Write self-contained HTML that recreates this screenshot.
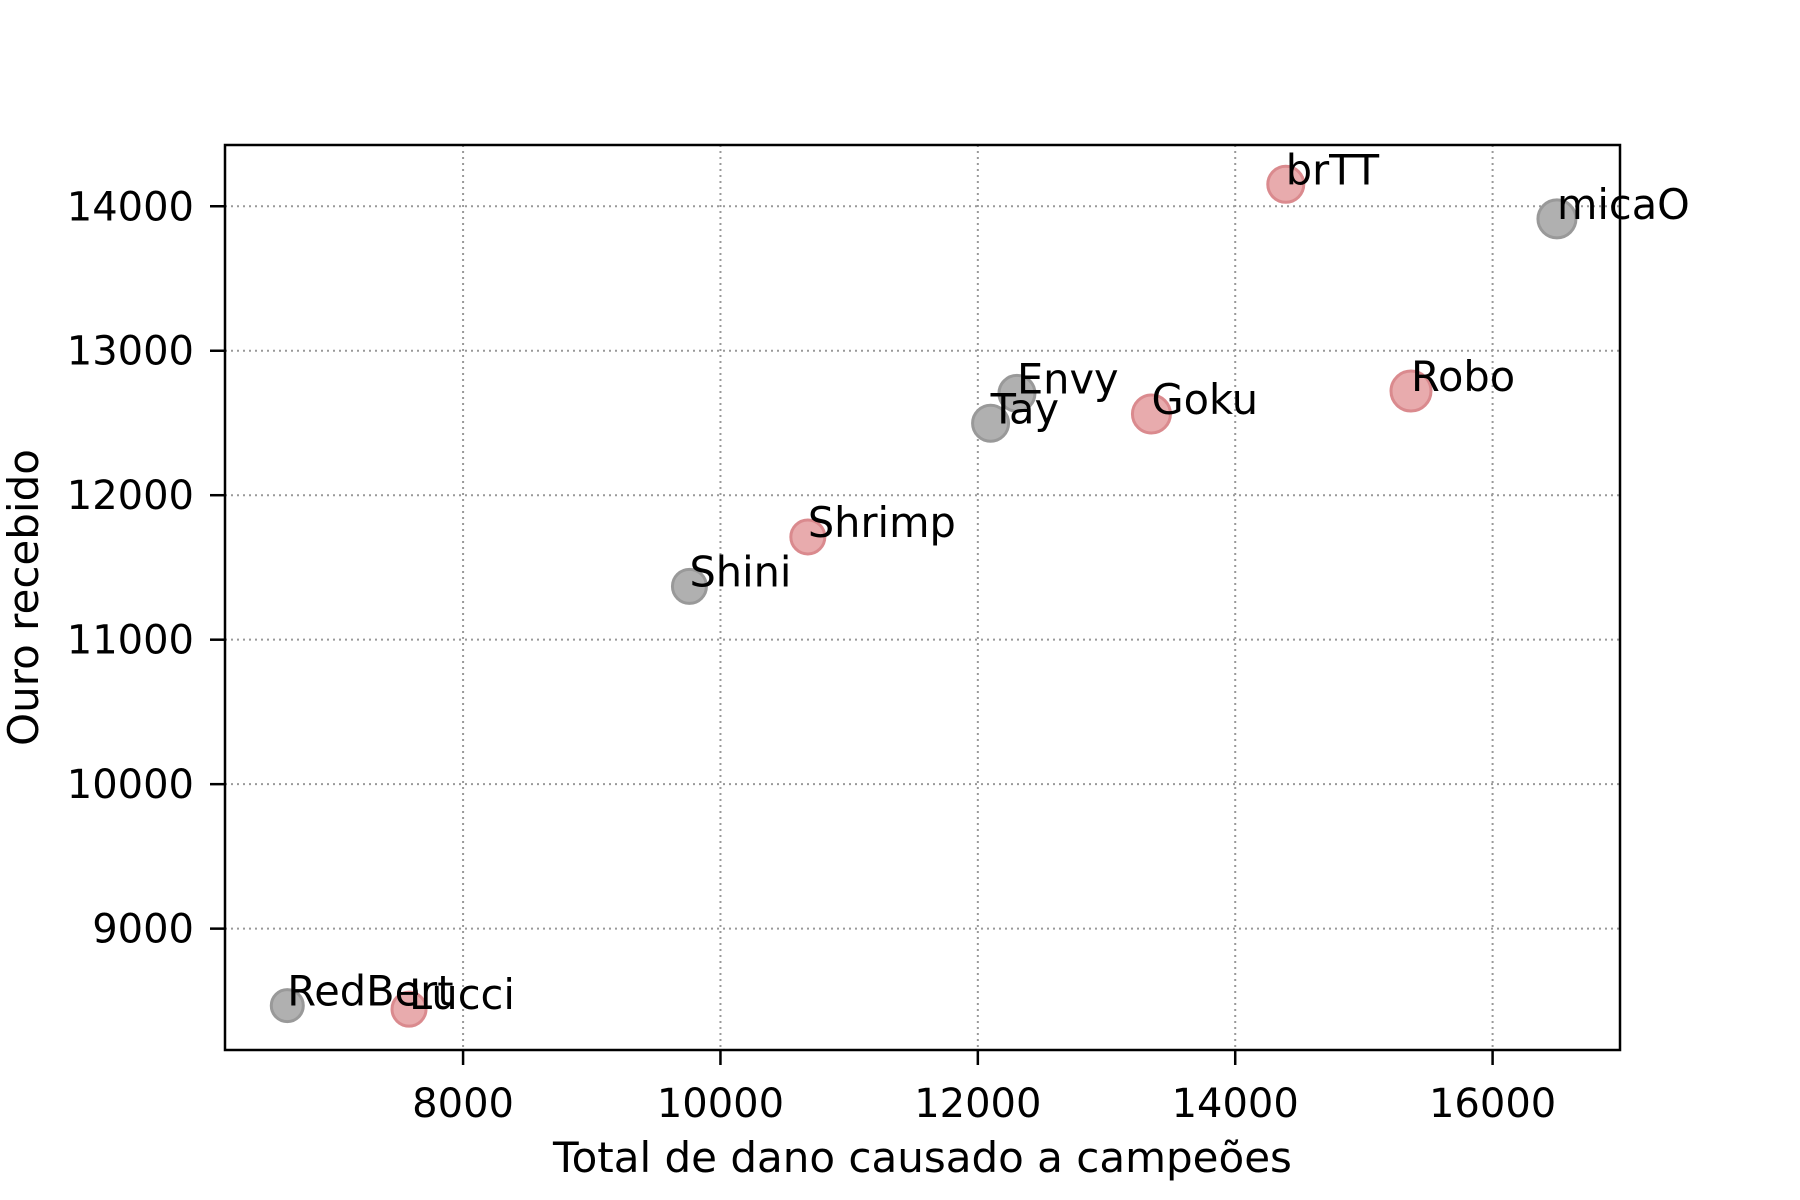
<!DOCTYPE html>
<html><head><meta charset="utf-8"><style>
html,body{margin:0;padding:0;background:#fff;}
svg{display:block;font-family:"DejaVu Sans","Liberation Sans",sans-serif;}
</style></head><body>
<svg id="chart" width="1800" height="1200" viewBox="0 0 1800 1200"></svg>
<script>
const players = ["RedBert","Lucci","Shini","Shrimp","Tay","Envy","Goku","Robo","brTT","micaO"];
const damage = [6634,7580,9759,10679,12099,12304,13349,15366,14393,16500];
const gold = [8467,8443,11369,11711,12498,12705,12562,12721,14152,13913];
const team = ["g","r","g","r","g","g","r","r","r","g"];
const markerSize = [16,17,17,17,18,18,19,20,18,19];
const xTicks = [8000,10000,12000,14000,16000];
const yTicks = [9000,10000,11000,12000,13000,14000];

const L=225,R=1620,T=145,B=1050;
const xMin=6150,xMax=16990,yMin=8160,yMax=14424;
const sx=v=>L+(v-xMin)/(xMax-xMin)*(R-L);
const sy=v=>B-(v-yMin)/(yMax-yMin)*(B-T);
const svg=document.getElementById('chart');
const NS='http://www.w3.org/2000/svg';
function mk(tag,attrs,parent){const e=document.createElementNS(NS,tag);for(const k in attrs)e.setAttribute(k,attrs[k]);(parent||svg).appendChild(e);return e;}

const grid=mk('g',{});


xTicks.forEach(v=>{
  const l=mk('line',{x1:sx(v),x2:sx(v),y1:T,y2:B,stroke:'#999',"stroke-width":2,"stroke-dasharray":"2,4"},grid);
  
  
  const t=mk('line',{x1:sx(v),x2:sx(v),y1:B,y2:B+15,stroke:'#000',"stroke-width":2.5});
  
  
  const tx=mk('text',{x:sx(v),y:1117,"text-anchor":"middle","font-size":40,fill:'#000'});
  tx.textContent=v;
  
  
});
yTicks.forEach(v=>{
  const l=mk('line',{x1:L,x2:R,y1:sy(v),y2:sy(v),stroke:'#999',"stroke-width":2,"stroke-dasharray":"2,4"},grid);
  
  
  const t=mk('line',{x1:L-15,x2:L,y1:sy(v),y2:sy(v),stroke:'#000',"stroke-width":2.5});
  
  
  const tx=mk('text',{x:194,y:sy(v)+14,"text-anchor":"end","font-size":40,fill:'#000'});
  tx.textContent=v;
  
  
});

players.forEach((p,i)=>{
  const red=team[i]==='r';
  const c=mk('circle',{cx:sx(damage[i]),cy:sy(gold[i]),r:markerSize[i],fill:red?'#e8abad':'#b0b0b0',stroke:red?'#da8a8e':'#999',"stroke-width":3});
  
  
});
players.forEach((p,i)=>{
  const t=mk('text',{x:sx(damage[i]),y:sy(gold[i]),"font-size":41.5,fill:'#000'});
  t.textContent=p;
  
  
});

const frame=mk('rect',{x:L,y:T,width:R-L,height:B-T,fill:'none',stroke:'#000',"stroke-width":2.5});



const xl=mk('text',{x:(L+R)/2,y:1172,"text-anchor":"middle","font-size":42,fill:'#000'});
xl.textContent='Total de dano causado a campeões';


const yl=mk('text',{x:0,y:0,"text-anchor":"middle","font-size":42,fill:'#000',transform:`translate(38,${(T+B)/2}) rotate(-90)`});
yl.textContent='Ouro recebido';


</script>
</body></html>
